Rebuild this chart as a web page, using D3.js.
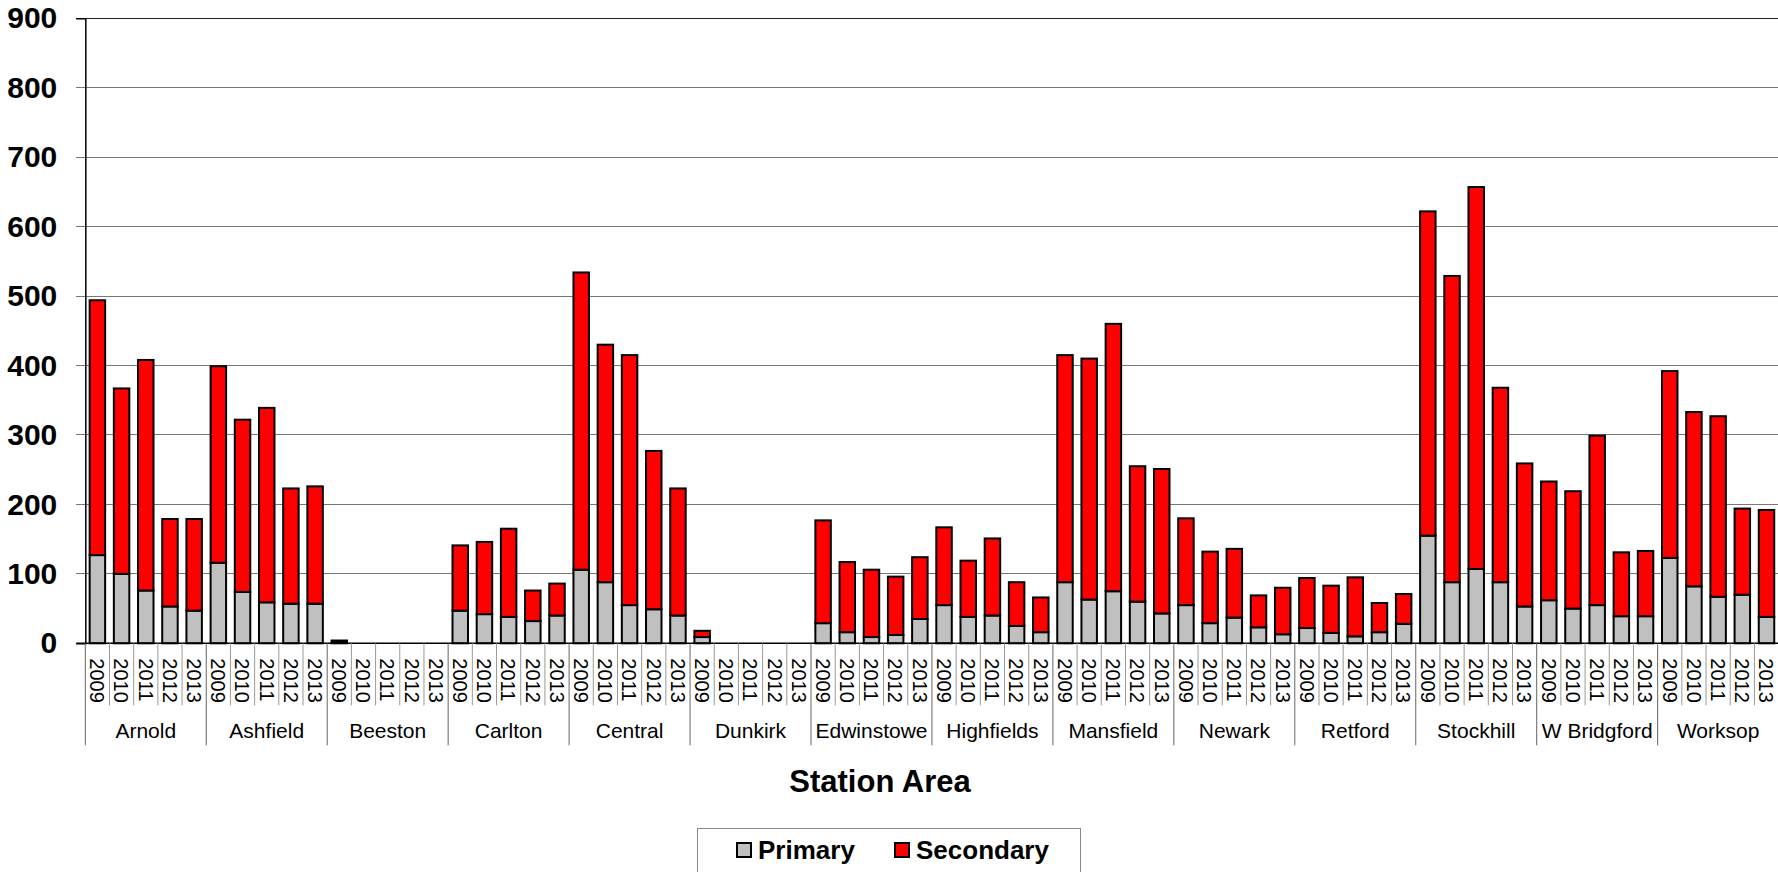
<!DOCTYPE html>
<head>
  <meta charset="utf-8">
  <script src="https://d3js.org/d3.v7.min.js"></script>
  <style>
    body { margin: 0; background: #fff; }
    svg { display: block; font-family: "Liberation Sans", Arial, sans-serif; }
    .bar { stroke: #000; stroke-width: 2px; }
    .grid line { stroke: #777; stroke-width: 1px; shape-rendering: crispEdges; }
  </style>
</head>

<body>
  <script>

    // station areas and years
    var stations = ["Arnold", "Ashfield", "Beeston", "Carlton", "Central", "Dunkirk", "Edwinstowe",
                    "Highfields", "Mansfield", "Newark", "Retford", "Stockhill", "W Bridgford", "Worksop"];
    var years = ["2009", "2010", "2011", "2012", "2013"];

    // values per station, one entry per year (2009..2013)
    var primary = [
      [127, 100, 76, 53, 47],
      [116, 74, 59, 57, 57],
      [1, 0, 0, 0, 0],
      [47, 42, 38, 32, 40],
      [106, 88, 55, 49, 40],
      [9, 0, 0, 0, 0],
      [29, 16, 9, 12, 35],
      [55, 38, 40, 25, 16],
      [88, 63, 75, 60, 43],
      [55, 29, 37, 23, 13],
      [22, 15, 10, 16, 28],
      [155, 88, 107, 88, 53],
      [62, 50, 55, 39, 39],
      [123, 82, 67, 70, 38]
    ];
    var secondary = [
      [367, 267, 332, 126, 132],
      [283, 248, 280, 166, 169],
      [3, 0, 0, 0, 0],
      [94, 104, 127, 44, 46],
      [428, 342, 360, 228, 183],
      [9, 0, 0, 0, 0],
      [148, 101, 97, 84, 89],
      [112, 81, 111, 63, 50],
      [327, 347, 385, 195, 208],
      [125, 103, 99, 46, 67],
      [72, 68, 85, 42, 43],
      [467, 441, 550, 280, 206],
      [171, 169, 244, 92, 94],
      [269, 251, 260, 124, 154]
    ];
    var yTicks = [0, 100, 200, 300, 400, 500, 600, 700, 800, 900];
    var seriesNames = ["Primary", "Secondary"];
    var seriesColors = ["#c0c0c0", "#ff0000"];

    var W = 1778, H = 872;
    var margin = {top: 18.3, left: 85.3, right: -0.6, bottom: 228.7};
    var width = W - margin.left - margin.right;
    var height = H - margin.top - margin.bottom;

    var svg = d3.select("body").append("svg")
      .attr("width", W)
      .attr("height", H);

    // flat rows, one per station/year
    var rows = [];
    stations.forEach(function(s, i) {
      years.forEach(function(yr, j) {
        rows.push({key: s + "|" + yr, station: s, year: yr, Primary: primary[i][j], Secondary: secondary[i][j]});
      });
    });

    var x = d3.scaleBand()
      .domain(rows.map(function(d) { return d.key; }))
      .range([0, width])
      .paddingInner(0.36)
      .paddingOuter(0.18);

    var y = d3.scaleLinear()
      .domain([0, 900])
      .range([height, 0]);

    var g = svg.append("g")
      .attr("transform", "translate(" + margin.left + "," + margin.top + ")");

    // gridlines + ticks
    g.append("g").attr("class", "grid")
      .selectAll("line").data(yTicks).enter().append("line")
        .attr("x1", -9)
        .attr("x2", width)
        .attr("y1", function(d) { return y(d); })
        .attr("y2", function(d) { return y(d); })
        .style("stroke", function(d) { return d === 900 ? "#222" : "#777"; });

    var yAxis = g.append("g")
      .call(d3.axisLeft(y).tickValues(yTicks).tickSize(9).tickPadding(19));
    yAxis.select(".domain").attr("stroke", "#000").attr("stroke-width", 1.5);
    yAxis.selectAll(".tick line").remove();
    yAxis.selectAll("text")
      .style("font-size", "30px")
      .style("font-weight", "bold")
      .style("font-family", "'Liberation Sans', Arial, sans-serif")
      .attr("fill", "#000");

    // stacked bars
    var stack = d3.stack().keys(seriesNames);
    var layers = stack(rows);

    g.selectAll(".layer").data(layers).enter().append("g")
      .attr("class", "layer")
      .attr("fill", function(d, i) { return seriesColors[i]; })
      .selectAll("rect")
      .data(function(d) { return d.filter(function(p) { return p[1] - p[0] > 0; }); })
      .enter().append("rect")
        .attr("class", "bar")
        .attr("x", function(d) { return x(d.data.key); })
        .attr("width", x.bandwidth())
        .attr("y", function(d) { return y(d[1]); })
        .attr("height", function(d) { return y(d[0]) - y(d[1]); });

    // baseline
    g.append("line")
      .attr("x1", -9).attr("x2", width)
      .attr("y1", height).attr("y2", height)
      .attr("stroke", "#000").attr("stroke-width", 1.5);

    // category separators
    var step = x.step();
    var slotStart = function(k) { return x(k) - step * x.paddingOuter(); };
    var bounds = rows.map(function(d, i) { return {x: slotStart(d.key), group: i % years.length === 0}; });
    bounds.push({x: width, group: true});

    g.selectAll(".sep").data(bounds).enter().append("line")
      .attr("class", "sep")
      .attr("x1", function(d) { return d.x; })
      .attr("x2", function(d) { return d.x; })
      .attr("y1", height)
      .attr("y2", function(d) { return height + (d.group ? 102 : 62); })
      .attr("stroke", function(d) { return d.group ? "#666" : "#999"; })
      .attr("stroke-width", 1);

    // year labels, rotated
    g.selectAll(".yr").data(rows).enter().append("text")
      .attr("class", "yr")
      .attr("transform", function(d) {
        return "translate(" + (x(d.key) + x.bandwidth() / 2) + "," + (height + 15) + ") rotate(90)";
      })
      .attr("dy", "0.36em")
      .style("font-size", "20px")
      .text(function(d) { return d.year; });

    // station labels
    g.selectAll(".st").data(stations).enter().append("text")
      .attr("class", "st")
      .attr("x", function(s) {
        return (slotStart(s + "|" + years[0]) + slotStart(s + "|" + years[years.length - 1]) + step) / 2;
      })
      .attr("y", height + 95)
      .attr("text-anchor", "middle")
      .style("font-size", "21px")
      .text(function(s) { return s; });

    // axis title
    svg.append("text")
      .attr("x", 880)
      .attr("y", 792)
      .attr("text-anchor", "middle")
      .style("font-size", "31px")
      .style("font-weight", "bold")
      .text("Station Area");

    // legend
    var legend = svg.append("g");
    legend.append("rect")
      .attr("x", 697.5).attr("y", 828.5)
      .attr("width", 383).attr("height", 60)
      .attr("fill", "#fff").attr("stroke", "#888").attr("stroke-width", 1);

    var legendX = [737, 895];
    var items = legend.selectAll(".item").data(seriesNames).enter().append("g")
      .attr("transform", function(d, i) { return "translate(" + legendX[i] + ",843)"; });
    items.append("rect")
      .attr("width", 14).attr("height", 14)
      .attr("fill", function(d, i) { return seriesColors[i]; })
      .attr("stroke", "#000").attr("stroke-width", 2);
    items.append("text")
      .attr("x", 21)
      .attr("y", 16)
      .style("font-size", "26px")
      .style("font-weight", "bold")
      .text(function(d) { return d; });

  </script>
</body>
